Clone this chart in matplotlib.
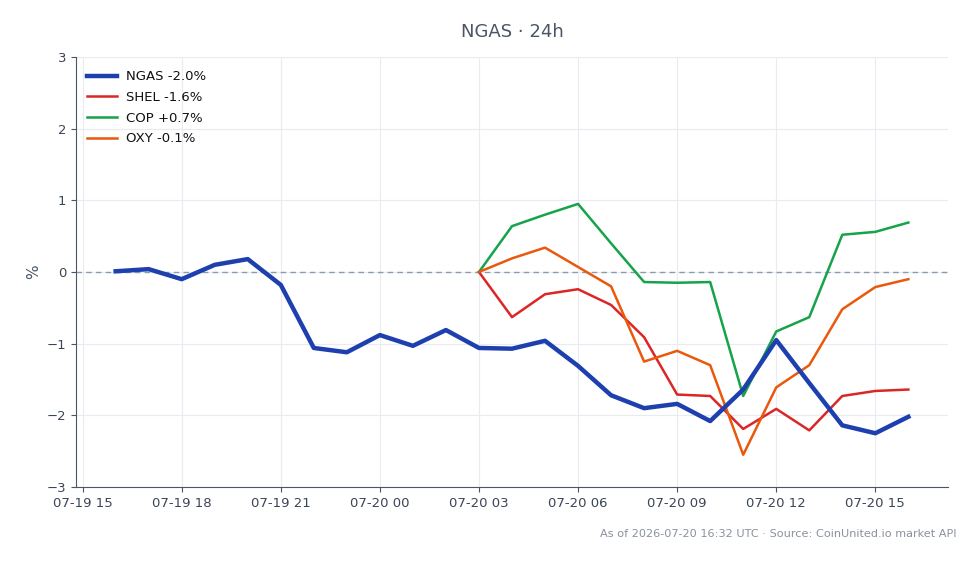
import matplotlib
matplotlib.use("Agg")
import matplotlib.pyplot as plt
import matplotlib.dates as mdates
import numpy as np
import pandas as pd

ngas_times = pd.date_range("2026-07-19 16:00", "2026-07-20 16:00", freq="h")
peer_times = pd.date_range("2026-07-20 03:00", "2026-07-20 16:00", freq="h")

ngas = [0.01, 0.04, -0.10, 0.10, 0.18, -0.18, -1.06, -1.12, -0.88, -1.03, -0.81,
        -1.06, -1.07, -0.96, -1.31, -1.72, -1.90, -1.84, -2.08, -1.64, -0.95,
        -1.55, -2.14, -2.25, -2.02]
shel = [0.0, -0.63, -0.31, -0.24, -0.46, -0.91, -1.71, -1.73, -2.19, -1.91, -2.21,
        -1.73, -1.66, -1.64]
cop = [0.0, 0.64, 0.80, 0.95, 0.40, -0.14, -0.15, -0.14, -1.73, -0.83, -0.63,
       0.52, 0.56, 0.69]
oxy = [0.0, 0.19, 0.34, 0.07, -0.20, -1.25, -1.10, -1.30, -2.55, -1.61, -1.30,
       -0.52, -0.21, -0.10]

labels = ["NGAS -2.0%", "SHEL -1.6%", "COP +0.7%", "OXY -0.1%"]
title = "NGAS · 24h"
footer = "As of 2026-07-20 16:32 UTC · Source: CoinUnited.io market API"

text_c = "#4a5568"
fig = plt.figure(figsize=(9.8, 5.64), dpi=100)
ax = fig.add_axes([76/980, 1-487/564, (948-76)/980, (487-57)/564])

ax.plot(ngas_times, ngas, color="#1e40af", lw=3.2, label=labels[0], zorder=5)
ax.plot(peer_times, shel, color="#dc2626", lw=1.8, label=labels[1], zorder=4)
ax.plot(peer_times, cop, color="#16a34a", lw=1.8, label=labels[2], zorder=4)
ax.plot(peer_times, oxy, color="#ea580c", lw=1.8, label=labels[3], zorder=4)
ax.axhline(0, color="#8a9ab0", lw=1, ls=(0, (4, 3)), zorder=2)

ax.set_ylim(-3, 3)
ax.set_yticks([-3, -2, -1, 0, 1, 2, 3])
ax.xaxis.set_major_locator(mdates.HourLocator(byhour=range(0, 24, 3)))
ax.xaxis.set_major_formatter(mdates.DateFormatter("%m-%d %H"))
ax.grid(True, color="#e8ecf1", lw=0.8)
ax.set_axisbelow(True)
for s in ["top", "right"]:
    ax.spines[s].set_visible(False)
for s in ["left", "bottom"]:
    ax.spines[s].set_color(text_c)
ax.tick_params(colors=text_c, labelsize=9.5)
ax.tick_params(axis="both", labelcolor="#3a4556")
ax.set_ylabel("%", color=text_c, fontsize=11)

leg = ax.legend(loc="upper left", bbox_to_anchor=(0.0065, 0.981), frameon=False,
                fontsize=9.5, handlelength=2.25, handletextpad=0.7,
                borderaxespad=0.0, labelspacing=0.58)
for t in leg.get_texts():
    t.set_color("#111111")
fig.text(512/980, 1-32/564, title, ha="center", va="center", fontsize=13, color=text_c)
fig.text(956/980, 1-534/564, footer, ha="right", va="center", fontsize=8.1, color="#8a929e")

fig.savefig("out.png", dpi=100)
